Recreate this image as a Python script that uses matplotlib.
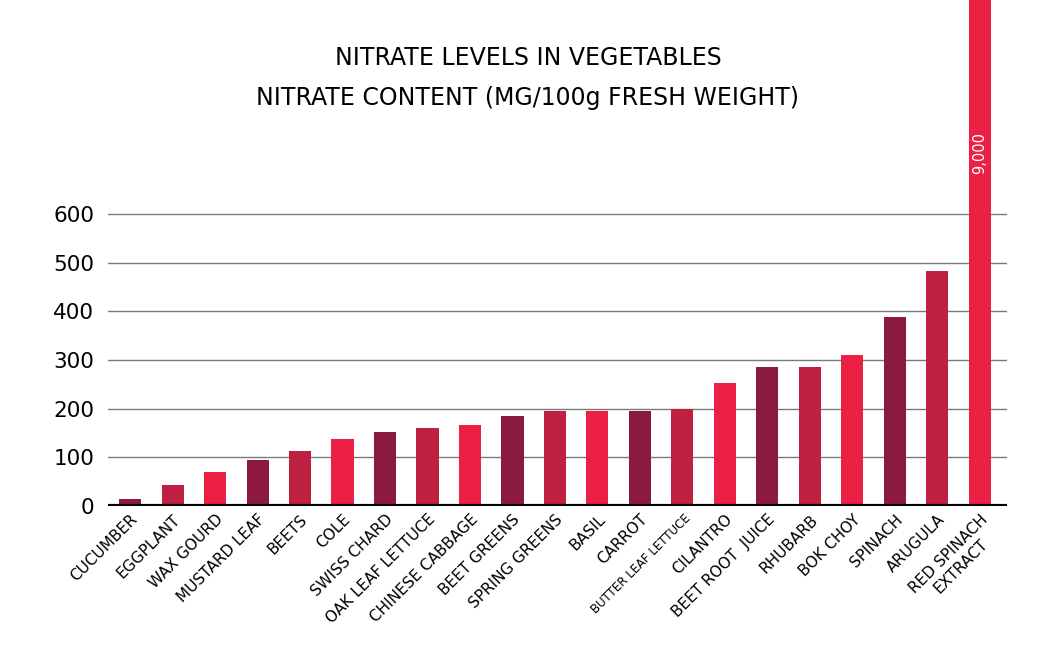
import matplotlib
matplotlib.use("Agg")
import matplotlib.pyplot as plt
import numpy as np

plt.rcParams['font.family'] = ['DejaVu Sans']

#values (mg nitrate per 100 g fresh weight)
vegetables = ["CUCUMBER", "EGGPLANT", "WAX GOURD", "MUSTARD LEAF", "BEETS", "COLE",
              "SWISS CHARD", "OAK LEAF LETTUCE", "CHINESE CABBAGE", "BEET GREENS",
              "SPRING GREENS", "BASIL", "CARROT", "BUTTER LEAF LETTUCE", "CILANTRO",
              "BEET ROOT  JUICE", "RHUBARB", "BOK CHOY", "SPINACH", "ARUGULA",
              "RED SPINACH\nEXTRACT"]
nitrate = [15, 43, 70, 95, 113, 137, 153, 160, 166, 185, 195, 195, 195, 200, 252,
           285, 285, 311, 388, 483, 9000]
y_ticks = [0, 100, 200, 300, 400, 500, 600]

palette = ["#8c1a3e", "#bf1f41", "#ec1f45"]
colors = [palette[i % 3] for i in range(len(vegetables))]

fig = plt.figure(figsize=(10.56, 6.51), dpi=100)
ax = fig.add_axes([108/1056, 1 - 506/651, (1007 - 108)/1056, 506/651])

x = np.arange(len(vegetables))

#gridlines only up to 600
for t in y_ticks[1:]:
    ax.axhline(t, color="#7a7a7a", lw=1.0, zorder=0)

ax.bar(x, nitrate, width=0.52, color=colors, zorder=2)
ax.axhline(0, color="black", lw=3, zorder=3)

ax.set_xlim(-0.52, 20.64)
ax.set_ylim(0, 1040)

for s in ax.spines.values():
    s.set_visible(False)

ax.set_yticks(y_ticks)
ax.set_yticklabels([str(t) for t in y_ticks], fontsize=15.5)
ax.tick_params(axis="y", length=0, pad=10)
ax.set_xticks([])

#rotated category labels
for i, name in enumerate(vegetables):
    if name == "BUTTER LEAF LETTUCE":
        ax.text(i + 0.05, -12, name, rotation=45, ha="right", va="top",
                rotation_mode="anchor", fontsize=8.5, color="black")
    else:
        ax.text(i + 0.0, -12, name, rotation=45, ha="right", va="top",
                rotation_mode="anchor", fontsize=11, multialignment="center")

#value label on the clipped bar
ax.text(x[-1], 725, "9,000", rotation=90, ha="center", va="center",
        color="white", fontsize=10.5)

fig.text(0.5, 1 - 58/651, "NITRATE LEVELS IN VEGETABLES", ha="center", va="center",
         fontsize=17)
fig.text(0.5, 1 - 98/651, "NITRATE CONTENT (MG/100g FRESH WEIGHT)", ha="center",
         va="center", fontsize=17)

fig.savefig("out.png", dpi=100)
